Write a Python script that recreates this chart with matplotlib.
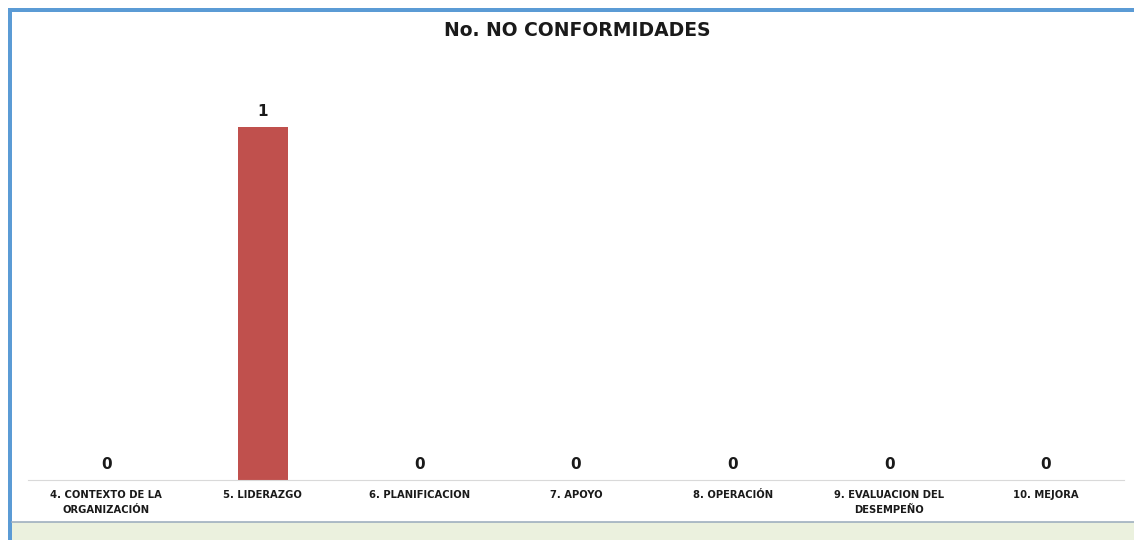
import matplotlib
matplotlib.use("Agg")
import matplotlib.pyplot as plt
from matplotlib.patches import Rectangle

# Data
categories = ["4. CONTEXTO DE LA\nORGANIZACIÓN", "5. LIDERAZGO", "6. PLANIFICACION",
              "7. APOYO", "8. OPERACIÓN", "9. EVALUACION DEL\nDESEMPEÑO", "10. MEJORA"]
values = [0, 1, 0, 0, 0, 0, 0]
title = "No. NO CONFORMIDADES"

plt.rcParams['font.family'] = ['DejaVu Sans']

W, H = 1134, 540
fig = plt.figure(figsize=(W / 100, H / 100), dpi=100)
fig.patch.set_facecolor("white")

# frame decorations (blue border left/top, green band bottom)
fig.patches.append(Rectangle((12 / W, 0), 1, 18 / H, transform=fig.transFigure,
                             facecolor="#EBF1DE", edgecolor="none", zorder=0))
fig.lines.append(plt.Line2D([12 / W, 1], [18 / H, 18 / H], transform=fig.transFigure,
                            color="#9FB0BF", lw=1.2))
fig.patches.append(Rectangle((8 / W, 0), 4 / W, 532 / H, transform=fig.transFigure,
                             facecolor="#5B9BD5", edgecolor="none"))
fig.patches.append(Rectangle((8 / W, 528 / H), 1, 4 / H, transform=fig.transFigure,
                             facecolor="#5B9BD5", edgecolor="none"))

ax = fig.add_axes([28 / W, 60 / H, 1096 / W, 420 / H])
ax.set_facecolor("none")
x = range(len(categories))
bars = ax.bar(x, values, width=0.32, color="#C0504D")
ax.set_xlim(-0.5, len(categories) - 0.5)
ax.set_ylim(0, 1.19)

for xi, v in zip(x, values):
    ax.text(xi, v + 0.022, str(v), ha="center", va="bottom", fontsize=11,
            fontweight="bold", color="#1a1a1a")

ax.set_xticks(list(x))
ax.set_xticklabels(categories, fontsize=7.2, fontweight="bold", color="#1a1a1a",
                   linespacing=1.7)
ax.tick_params(axis="x", length=0, pad=7)
ax.set_yticks([])
for s in ["top", "left", "right"]:
    ax.spines[s].set_visible(False)
ax.spines["bottom"].set_color("#D9D9D9")

fig.text(577 / W, 1 - 30 / H, title, ha="center", va="center", fontsize=13.5,
         fontweight="bold", color="#1a1a1a")

fig.savefig("out.png", dpi=100)
